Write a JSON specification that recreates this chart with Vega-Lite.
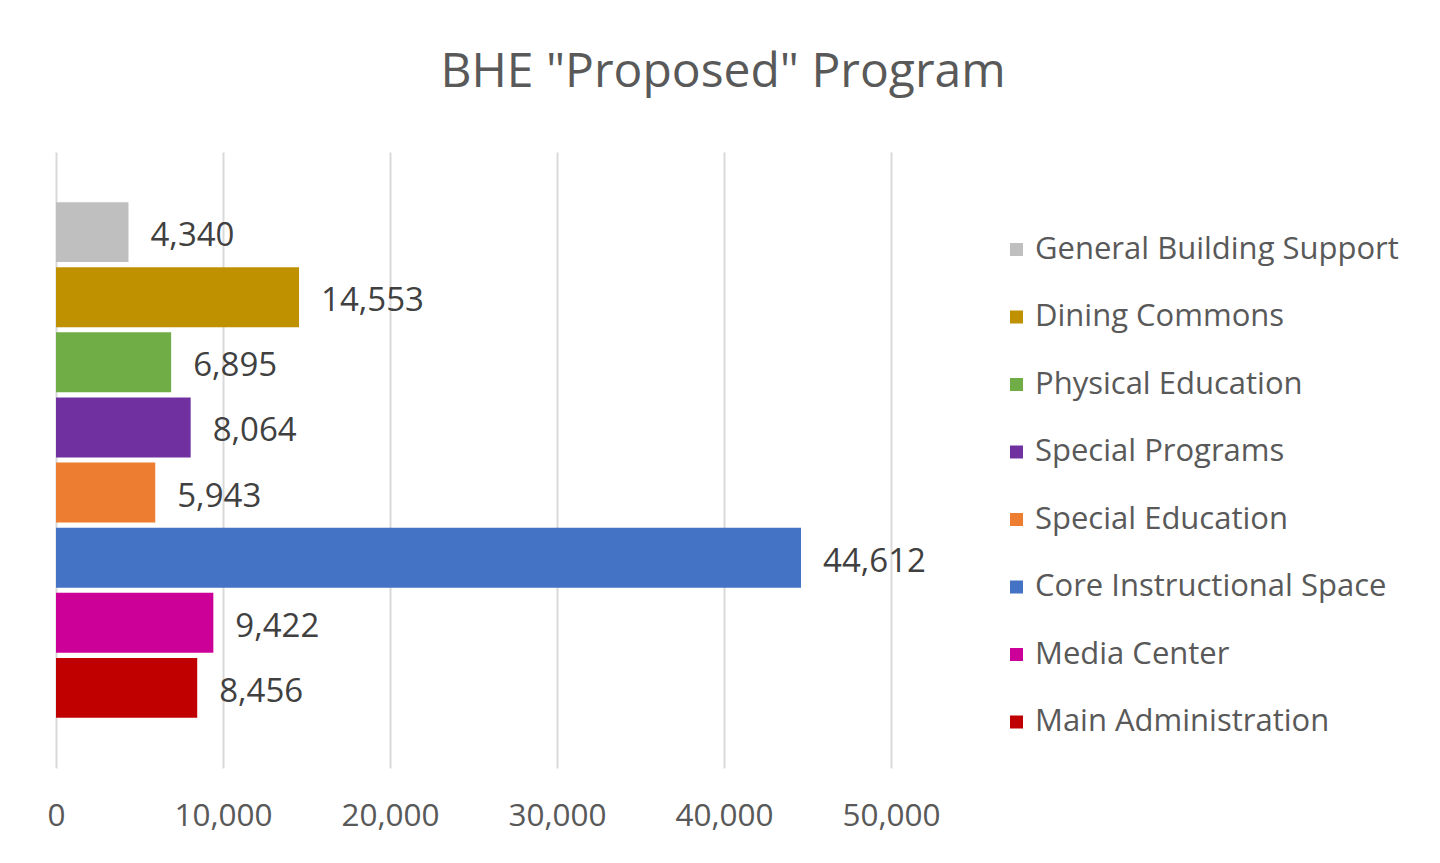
{
  "$schema": "https://vega.github.io/schema/vega-lite/v6.json",
  "width": 835,
  "height": 616,
  "autosize": {"type": "none"},
  "padding": {"left": 56, "top": 152, "right": 549, "bottom": 95},
  "background": "white",
  "title": {
    "text": "BHE \"Proposed\" Program",
    "fontSize": 48,
    "font": "Open Sans",
    "fontWeight": "normal",
    "color": "#595959",
    "anchor": "middle",
    "frame": "bounds",
    "offset": 55
  },
  "data": {
    "values": [
      {"category": "General Building Support", "value": 4340},
      {"category": "Dining Commons", "value": 14553},
      {"category": "Physical Education", "value": 6895},
      {"category": "Special Programs", "value": 8064},
      {"category": "Special Education", "value": 5943},
      {"category": "Core Instructional Space", "value": 44612},
      {"category": "Media Center", "value": 9422},
      {"category": "Main Administration", "value": 8456}
    ]
  },
  "encoding": {
    "y": {
      "field": "category",
      "type": "nominal",
      "sort": ["General Building Support", "Dining Commons", "Physical Education", "Special Programs", "Special Education", "Core Instructional Space", "Media Center", "Main Administration"],
      "axis": null,
      "scale": {"paddingInner": 0.08, "paddingOuter": 0.77}
    },
    "x": {
      "field": "value",
      "type": "quantitative",
      "scale": {"domain": [0, 50000], "nice": false},
      "axis": {
        "values": [0, 10000, 20000, 30000, 40000, 50000],
        "format": ",.0f",
        "grid": true,
        "gridColor": "#D9D9D9",
        "gridWidth": 2,
        "domain": false,
        "ticks": false,
        "labelFlush": false,
        "labelFont": "Open Sans",
        "labelFontSize": 31.5,
        "labelColor": "#595959",
        "labelPadding": 32,
        "title": null
      }
    }
  },
  "layer": [
    {
      "mark": {"type": "bar"},
      "encoding": {
        "color": {
          "field": "category",
          "type": "nominal",
          "scale": {
            "domain": ["General Building Support", "Dining Commons", "Physical Education", "Special Programs", "Special Education", "Core Instructional Space", "Media Center", "Main Administration"],
            "range": ["#BFBFBF", "#BF9000", "#70AD47", "#7030A0", "#ED7D31", "#4472C4", "#CC0099", "#C00000"]
          },
          "legend": {
            "orient": "none",
            "legendX": 945,
            "legendY": 82,
            "title": null,
            "symbolType": "square",
            "symbolSize": 169,
            "symbolStrokeWidth": 0,
            "labelFont": "Open Sans",
            "labelFontSize": 31,
            "labelColor": "#595959",
            "labelOffset": 3,
            "rowPadding": 35.5,
            "padding": 0,
            "labelLimit": 500
          }
        }
      }
    },
    {
      "mark": {"type": "text", "align": "left", "baseline": "middle", "dx": 22, "dy": 4, "font": "Open Sans", "fontSize": 33, "color": "#404040"},
      "encoding": {
        "text": {"field": "value", "type": "quantitative", "format": ","}
      }
    }
  ],
  "config": {"view": {"stroke": null}}
}
